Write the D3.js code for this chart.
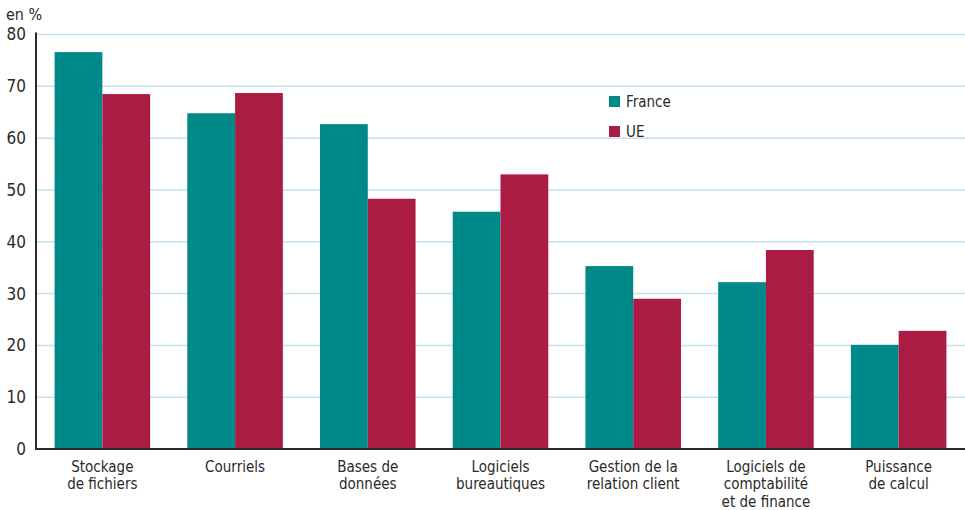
<!DOCTYPE html>
<html>
<head>
<meta charset="utf-8">
<script src="https://cdn.jsdelivr.net/npm/d3@7"></script>
<style>
  body { margin: 0; background: #fff; }
  svg text { font-family: "Liberation Sans Narrow", "DejaVu Sans Condensed", "Liberation Sans", sans-serif; fill: #2a2a2a; }
</style>
</head>
<body>
<svg id="chart" width="965" height="510"></svg>
<script>
const categories = [
  ["Stockage", "de fichiers"],
  ["Courriels"],
  ["Bases de", "données"],
  ["Logiciels", "bureautiques"],
  ["Gestion de la", "relation client"],
  ["Logiciels de", "comptabilité", "et de finance"],
  ["Puissance", "de calcul"]
];
const france = [76.6, 64.8, 62.7, 45.8, 35.3, 32.2, 20.1];
const ue = [68.5, 68.7, 48.3, 53.0, 29.0, 38.4, 22.8];
const seriesNames = ["France", "UE"];
const seriesColors = ["#008989", "#aa1c44"];
const yTicks = [0, 10, 20, 30, 40, 50, 60, 70, 80];

const svg = d3.select("#chart");
const margin = { left: 36, right: 0, top: 34.5, bottom: 61 };
const W = 965, H = 510;

const x = d3.scaleBand()
  .domain(d3.range(categories.length))
  .range([margin.left, W - margin.right])
  .paddingInner(0.28)
  .paddingOuter(0.14);
const xs = d3.scaleBand().domain([0, 1]).range([0, x.bandwidth()]);
const y = d3.scaleLinear().domain([0, 80]).range([H - margin.bottom, margin.top]);

// gridlines
svg.append("g")
  .selectAll("line")
  .data(yTicks.filter(t => t > 0))
  .join("line")
  .attr("x1", margin.left).attr("x2", W)
  .attr("y1", d => y(d)).attr("y2", d => y(d))
  .attr("stroke", "#c4e1f2").attr("stroke-width", 1.5);

// bars
const data = [france, ue];
const groups = svg.append("g");
categories.forEach((c, i) => {
  data.forEach((s, j) => {
    groups.append("rect")
      .attr("x", x(i) + xs(j))
      .attr("width", xs.bandwidth())
      .attr("y", y(s[i]))
      .attr("height", y(0) - y(s[i]))
      .attr("fill", seriesColors[j]);
  });
});

// y axis
const yAxis = svg.append("g")
  .attr("transform", `translate(${margin.left},0)`)
  .call(d3.axisLeft(y).tickValues(yTicks).tickSize(0).tickPadding(10));
yAxis.select(".domain").remove();
yAxis.selectAll("text").style("font-size", "17px").attr("fill", "#2a2a2a");
svg.append("line")
  .attr("x1", margin.left).attr("x2", margin.left)
  .attr("y1", margin.top - 2).attr("y2", y(0))
  .attr("stroke", "#2a2a2a").attr("stroke-width", 2);

// x axis
svg.append("line")
  .attr("x1", margin.left - 1).attr("x2", W)
  .attr("y1", y(0)).attr("y2", y(0))
  .attr("stroke", "#2a2a2a").attr("stroke-width", 2);

// category labels, one text per line
const xl = svg.append("g");
categories.forEach((lines, i) => {
  lines.forEach((l, k) => {
    xl.append("text")
      .attr("text-anchor", "middle")
      .attr("x", x(i) + x.bandwidth() / 2)
      .attr("y", 471.5 + k * 17.5)
      .style("font-size", "15px")
      .text(l);
  });
});

// unit label
svg.append("text").attr("x", 6).attr("y", 20).style("font-size", "16px").text("en %");

// legend
const legend = svg.append("g");
seriesNames.forEach((n, j) => {
  legend.append("rect")
    .attr("x", 609).attr("y", 96 + j * 30)
    .attr("width", 11).attr("height", 11)
    .attr("fill", seriesColors[j]);
  legend.append("text")
    .attr("x", 626).attr("y", 107 + j * 30)
    .style("font-size", "15px")
    .text(n);
});
</script>
</body>
</html>
